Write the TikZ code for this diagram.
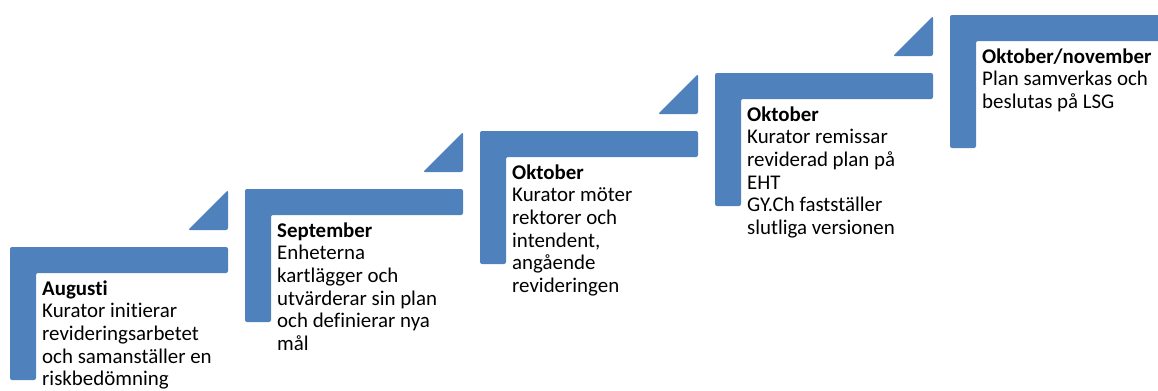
\documentclass[tikz,border=0pt]{standalone}
\usepackage{fontspec}
\setmainfont[Ligatures={NoCommon}]{Carlito}
\definecolor{stepblue}{HTML}{4F81BD}
\begin{document}
\begin{tikzpicture}[x=1bp,y=-1bp,
  stepshape/.style={fill=stepblue, draw=none, rounded corners=2bp},
  steptext/.style={anchor=north west, inner sep=0pt, align=left,
    font=\fontsize{20.9bp}{22.6bp}\selectfont, text=black}]
\useasboundingbox (0,0) rectangle (1158,390);
\clip (0,0) rectangle (1158,390);
% L-shaped steps
\foreach \i in {0,...,4}{
  \pgfmathsetmacro\xo{10+235*\i}
  \pgfmathsetmacro\yo{247-58*\i}
  \fill[stepshape] (\xo,\yo) -- ++(218,0) -- ++(0,26) -- ++(-192,0)
     -- ++(0,107) -- ++(-26,0) -- cycle;
}
% triangles
\foreach \i in {0,...,3}{
  \pgfmathsetmacro\xo{10+235*\i}
  \pgfmathsetmacro\yo{247-58*\i}
  \fill[stepshape] ({\xo+178},{\yo-17}) -- ++(40,-40) -- ++(0,40) -- cycle;
}
% texts
\node[steptext] (t1) at (42,280) {\rule{0pt}{15bp}\textbf{Augusti}\\Kurator initierar\\revideringsarbetet\\och samanställer en\\riskbedömning};
\node[steptext] (t2) at (277,222) {\rule{0pt}{15bp}\textbf{September}\\Enheterna\\kartlägger och\\utvärderar sin plan\\och definierar nya\\mål};
\node[steptext] (t3) at (512,164) {\rule{0pt}{15bp}\textbf{Oktober}\\Kurator möter\\rektorer och\\intendent,\\angående\\revideringen};
\node[steptext] (t4) at (747,106) {\rule{0pt}{15bp}\textbf{Oktober}\\Kurator remissar\\reviderad plan på\\EHT\\GY.Ch fastställer\\slutliga versionen};
\node[steptext] (t5) at (982,48) {\rule{0pt}{15bp}\textbf{Oktober/november}\\Plan samverkas och\\beslutas på LSG};
\end{tikzpicture}
\end{document}
